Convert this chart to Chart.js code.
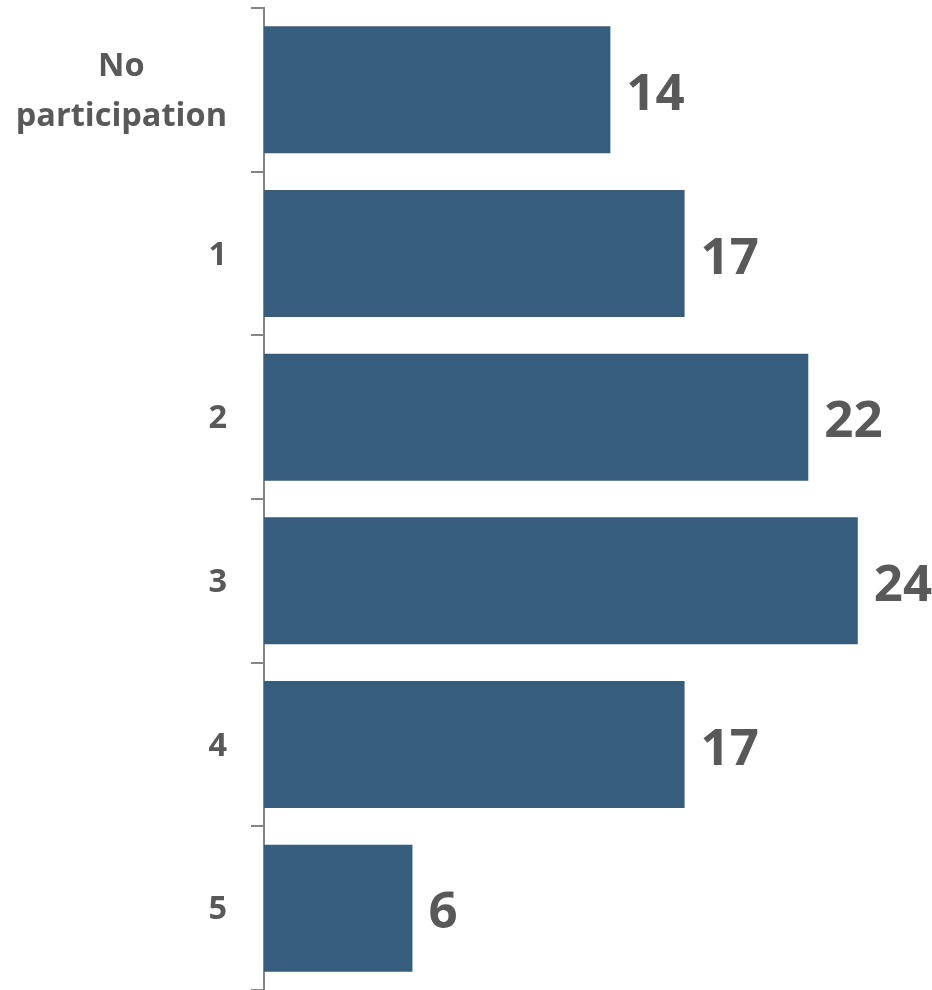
<!DOCTYPE html>
<html>
<head>
<meta charset="utf-8">
<script src="https://cdn.jsdelivr.net/npm/chart.js@4/dist/chart.umd.min.js"></script>
<style>
html,body{margin:0;padding:0;background:#fff;}
#wrap{width:932px;height:990px;position:relative;}
</style>
</head>
<body>
<div id="wrap"><canvas id="c"></canvas></div>
<script>
const categories = [["No","participation"],["1"],["2"],["3"],["4"],["5"]];
const values = [14,17,22,24,17,6];

const FONT = '"Open Sans", Lato, sans-serif';
const TEXT = '#595959';

const labelPlugin = {
  id: 'customLabels',
  afterDatasetsDraw(chart) {
    const ctx = chart.ctx;
    const meta = chart.getDatasetMeta(0);
    const yScale = chart.scales.y;
    ctx.save();
    // value labels
    ctx.font = 'bold 51px ' + FONT;
    ctx.fillStyle = TEXT;
    ctx.textAlign = 'left';
    ctx.textBaseline = 'alphabetic';
    meta.data.forEach((bar, i) => {
      ctx.fillText(String(values[i]), bar.x + 16, bar.y + 20);
    });
    // category labels
    ctx.font = 'bold 32.5px ' + FONT;
    ctx.textAlign = 'center';
    const rightEdge = 227;
    const lineH = 50;
    categories.forEach((lines, i) => {
      const yc = yScale.getPixelForValue(i);
      const w = Math.max(...lines.map(l => ctx.measureText(l).width));
      const cx = rightEdge - w / 2;
      const y0 = yc + 11 - (lines.length - 1) * lineH / 2;
      lines.forEach((l, j) => ctx.fillText(l, cx, y0 + j * lineH));
    });
    ctx.restore();
  }
};

new Chart(document.getElementById('c'), {
  type: 'bar',
  data: {
    labels: categories,
    datasets: [{
      data: values,
      backgroundColor: '#365D7C',
      borderWidth: 0,
      barPercentage: 0.776,
      categoryPercentage: 1.0
    }]
  },
  options: {
    indexAxis: 'y',
    responsive: true,
    maintainAspectRatio: false,
    animation: false,
    layout: { padding: { top: 8, bottom: 0, left: 0, right: 0 } },
    plugins: { legend: { display: false }, tooltip: { enabled: false } },
    scales: {
      x: { display: false, min: 0, max: 27 },
      y: {
        afterFit(scale) { scale.width = 264; },
        grid: {
          offset: true,
          drawOnChartArea: false,
          drawTicks: true,
          tickLength: 13,
          color: '#868686',
          lineWidth: 2
        },
        border: { display: true, color: '#868686', width: 2 },
        ticks: { display: false }
      }
    }
  },
  plugins: [labelPlugin]
});
</script>
</body>
</html>
